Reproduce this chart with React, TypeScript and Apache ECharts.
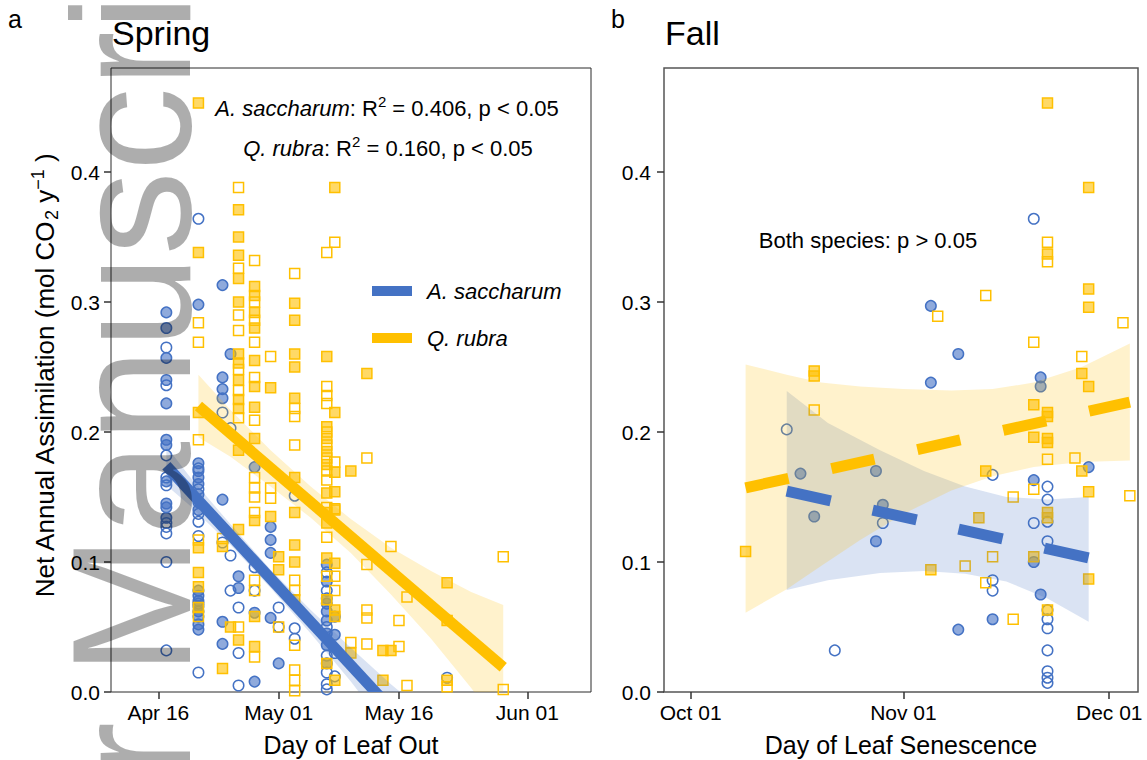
import React, { useEffect, useRef } from 'react';
import * as echarts from 'echarts';

type Group = [number, number[]];

const FONT = '"Liberation Sans", Arial, Helvetica, sans-serif';
const BLUE = '#4472C4';
const ORANGE = '#FFC000';
const BLUE_FILL = 'rgba(68,114,196,0.6)';
const ORANGE_FILL = 'rgba(255,192,0,0.6)';
const BLUE_BAND = 'rgba(68,114,196,0.2)';
const ORANGE_BAND = 'rgba(255,192,0,0.2)';

// x values are day of year
const springTickDays = [106, 121, 136, 152];
const springTickLabels = ['Apr 16', 'May 01', 'May 16', 'Jun 01'];
const fallTickDays = [274, 305, 335];
const fallTickLabels = ['Oct 01', 'Nov 01', 'Dec 01'];
const yTicks = [0, 0.1, 0.2, 0.3, 0.4];

// Spring — A. saccharum (circles)
const springMapleFilled: Group[] = [
  [107, [0.292, 0.28, 0.257, 0.24, 0.222, 0.194, 0.19, 0.162, 0.145, 0.142, 0.134]],
  [111, [0.298, 0.176, 0.17, 0.165, 0.16, 0.152, 0.146, 0.14, 0.078, 0.074, 0.07, 0.066, 0.062, 0.058, 0.052, 0.048]],
  [114, [0.313, 0.242, 0.233, 0.226, 0.148, 0.054, 0.037]],
  [115, [0.26]],
  [116, [0.089, 0.08]],
  [118, [0.173, 0.061, 0.008]],
  [120, [0.127, 0.117, 0.107, 0.057]],
  [121, [0.022]],
  [127, [0.098, 0.085, 0.072, 0.068, 0.062, 0.055, 0.045, 0.036, 0.022]],
  [128, [0.058, 0.044]],
];
const springMapleOpen: Group[] = [
  [107, [0.265, 0.236, 0.182, 0.165, 0.159, 0.13, 0.127, 0.122, 0.1, 0.032]],
  [111, [0.364, 0.172, 0.156, 0.137, 0.131, 0.12, 0.068, 0.015]],
  [114, [0.215, 0.115]],
  [115, [0.203, 0.105, 0.078]],
  [116, [0.065, 0.03, 0.005]],
  [118, [0.096, 0.078]],
  [121, [0.065, 0.05]],
  [123, [0.151, 0.049, 0.041]],
  [127, [0.092, 0.078, 0.05, 0.028, 0.015, 0.006, 0.002]],
  [128, [0.03, 0.012]],
  [142, [0.011]],
];
// Spring — Q. rubra (squares)
const springOakFilled: Group[] = [
  [111, [0.453, 0.338, 0.215, 0.111, 0.092, 0.081, 0.065]],
  [114, [0.112, 0.018]],
  [115, [0.05]],
  [116, [0.371, 0.35, 0.336, 0.318, 0.3, 0.26, 0.253, 0.24, 0.225, 0.218, 0.186, 0.125, 0.04]],
  [118, [0.312, 0.305, 0.292, 0.28, 0.255, 0.235, 0.219, 0.195, 0.132, 0.058, 0.035]],
  [120, [0.234, 0.135]],
  [121, [0.104, 0.094]],
  [123, [0.299, 0.286, 0.26, 0.25, 0.226, 0.165, 0.138, 0.113, 0.1, 0.071]],
  [127, [0.258, 0.204, 0.195, 0.185, 0.175, 0.153, 0.138, 0.13, 0.103, 0.071, 0.022]],
  [128, [0.388, 0.215, 0.169, 0.154, 0.14, 0.099, 0.063, 0.058, 0.009]],
  [130, [0.17, 0.03]],
  [132, [0.245]],
  [134, [0.032, 0.009]],
  [135, [0.032]],
  [142, [0.084, 0.055, 0.009]],
];
const springOakOpen: Group[] = [
  [111, [0.284, 0.269, 0.194, 0.117, 0.058]],
  [114, [0.118]],
  [116, [0.388, 0.326, 0.29, 0.278, 0.248, 0.232, 0.211, 0.05]],
  [118, [0.332, 0.3, 0.286, 0.269, 0.242, 0.209, 0.165, 0.157, 0.15, 0.138, 0.086, 0.078, 0.027]],
  [120, [0.258, 0.157, 0.149]],
  [121, [0.05]],
  [123, [0.322, 0.218, 0.212, 0.19, 0.086, 0.078, 0.036, 0.017, 0.009, 0.001]],
  [127, [0.338, 0.235, 0.228, 0.222, 0.2, 0.19, 0.18, 0.17, 0.163, 0.142, 0.119, 0.089]],
  [128, [0.346, 0.177, 0.141, 0.089, 0.078]],
  [130, [0.038]],
  [132, [0.18, 0.098, 0.063, 0.057, 0.037]],
  [135, [0.112]],
  [136, [0.055, 0.035]],
  [137, [0.073, 0.005]],
  [142, [0.004]],
  [149, [0.104, 0.002]],
];

// Fall
const fallMapleFilled: Group[] = [
  [290, [0.168]], [292, [0.135]], [301, [0.17, 0.116]], [302, [0.144]],
  [309, [0.297, 0.238]], [313, [0.26, 0.048]], [318, [0.056]], [324, [0.163, 0.1]],
  [325, [0.242, 0.235, 0.075]], [332, [0.173]],
];
const fallMapleOpen: Group[] = [
  [288, [0.202]], [295, [0.032]], [302, [0.13]], [318, [0.167, 0.086, 0.078]], [324, [0.364, 0.13]],
  [326, [0.158, 0.148, 0.131, 0.116, 0.063, 0.056, 0.049, 0.032, 0.016, 0.011, 0.007]],
];
const fallOakFilled: Group[] = [
  [282, [0.108]], [292, [0.247, 0.243]], [309, [0.094]], [316, [0.134]], [317, [0.17]],
  [324, [0.221, 0.196, 0.104]],
  [326, [0.453, 0.337, 0.215, 0.212, 0.195, 0.192, 0.138, 0.134, 0.063]],
  [331, [0.245, 0.17]], [332, [0.388, 0.31, 0.296, 0.235, 0.154, 0.087]],
];
const fallOakOpen: Group[] = [
  [292, [0.217]], [310, [0.289]], [314, [0.097]], [317, [0.305, 0.084]], [318, [0.104]],
  [321, [0.15, 0.056]], [324, [0.269, 0.156]], [326, [0.346, 0.331, 0.179]], [330, [0.18]],
  [331, [0.258]], [337, [0.284]], [338, [0.151]],
];

// Fitted lines [day, value]
const springMapleFit = [[107, 0.174], [142, -0.0595]];
const springOakFit = [[111, 0.22], [149, 0.019]];
const fallMapleFit = [[288, 0.1546], [332, 0.1031]];
const fallOakFit = [[282, 0.157], [338, 0.223]];

// Confidence bands
const springMapleBandDays = [107, 110, 115, 120, 125, 130, 135, 142];
const springMapleBandLow = [0.159, 0.143, 0.113, 0.08, 0.045, 0.008, -0.032, -0.09];
const springMapleBandHigh = [0.189, 0.165, 0.129, 0.094, 0.063, 0.034, 0.006, -0.03];
const springOakBandDays = [111, 115, 120, 125, 130, 135, 140, 145, 149];
const springOakBandLow = [0.196, 0.181, 0.158, 0.134, 0.107, 0.075, 0.041, 0.003, -0.029];
const springOakBandHigh = [0.244, 0.217, 0.186, 0.158, 0.133, 0.111, 0.093, 0.077, 0.067];
const fallMapleBandDays = [288, 294, 301.6, 308, 314, 320, 326, 332];
const fallMapleBandLow = [0.0785, 0.086, 0.0915, 0.093, 0.091, 0.085, 0.072, 0.054];
const fallMapleBandHigh = [0.2315, 0.207, 0.186, 0.17, 0.158, 0.15, 0.148, 0.15];
const fallOakBandDays = [282, 288, 293, 298.7, 305, 312, 318, 324, 331, 338];
const fallOakBandLow = [0.061, 0.079, 0.097, 0.117, 0.137, 0.155, 0.166, 0.173, 0.177, 0.178];
const fallOakBandHigh = [0.252, 0.244, 0.238, 0.235, 0.233, 0.232, 0.233, 0.238, 0.25, 0.268];

function flatten(groups: Group[]) {
  const out: number[][] = [];
  groups.forEach(([d, vs]) => vs.forEach((v) => out.push([d, v])));
  return out;
}

function scatter(groups: Group[], idx: number, symbol: string, fill: string, stroke: string) {
  return {
    type: 'scatter',
    xAxisIndex: idx,
    yAxisIndex: idx,
    data: flatten(groups),
    symbol,
    symbolSize: symbol === 'rect' ? 10 : 10.5,
    silent: true,
    z: 2,
    itemStyle: { color: fill, borderColor: stroke, borderWidth: 1.5, opacity: 1 },
  };
}

function band(days: number[], low: number[], high: number[], fill: string, idx: number) {
  return {
    type: 'custom',
    xAxisIndex: idx,
    yAxisIndex: idx,
    clip: true,
    silent: true,
    z: 3,
    data: [[days[0], 0]],
    encode: { x: 0, y: 1 },
    renderItem: (_p: any, api: any) => {
      const pts: number[][] = [];
      days.forEach((d, i) => pts.push(api.coord([d, high[i]])));
      for (let i = days.length - 1; i >= 0; i--) pts.push(api.coord([days[i], low[i]]));
      return { type: 'polygon', shape: { points: pts }, style: { fill } };
    },
  };
}

function fit(points: number[][], color: string, idx: number, dash: number[] | null) {
  return {
    type: 'custom',
    xAxisIndex: idx,
    yAxisIndex: idx,
    clip: true,
    silent: true,
    z: 4,
    data: [points[0]],
    encode: { x: 0, y: 1 },
    renderItem: (_p: any, api: any) => {
      const pts = points.map((p) => api.coord(p));
      return {
        type: 'polyline',
        shape: { points: pts },
        style: { stroke: color, lineWidth: 11, fill: 'none', lineDash: dash || undefined, lineCap: 'butt' },
      };
    },
  };
}

function xAxis(idx: number, min: number, max: number, days: number[], labels: string[]) {
  return {
    gridIndex: idx,
    type: 'value',
    min,
    max,
    axisLine: { show: false },
    splitLine: { show: false },
    axisTick: { show: true, customValues: days, length: 7, lineStyle: { color: '#333', width: 1.5 } },
    axisLabel: {
      customValues: days,
      formatter: (v: number) => {
        const i = days.findIndex((d) => Math.abs(d - v) < 1e-6);
        return i >= 0 ? labels[i] : '';
      },
      fontSize: 21,
      fontFamily: FONT,
      color: '#000',
      margin: 10,
    },
  };
}

function yAxis(idx: number, margin: number) {
  return {
    gridIndex: idx,
    type: 'value',
    min: 0,
    max: 0.48,
    axisLine: { show: false },
    splitLine: { show: false },
    axisTick: { show: true, customValues: yTicks, length: 7, lineStyle: { color: '#333', width: 1.5 } },
    axisLabel: {
      customValues: yTicks,
      formatter: (v: number) => v.toFixed(1),
      fontSize: 21,
      fontFamily: FONT,
      color: '#000',
      margin,
    },
  };
}

const txt = (text: string, x: number, y: number, size: number, extra: any = {}) => ({
  type: 'text',
  x,
  y,
  z: 50,
  silent: true,
  style: {
    text,
    fontSize: size,
    fontFamily: FONT,
    fill: '#000',
    align: 'left',
    verticalAlign: 'middle',
    ...extra,
  },
});

const richBase = (size: number) => ({
  n: { fontSize: size, fontFamily: FONT, fill: '#000', lineHeight: size + 6 },
  i: { fontSize: size, fontFamily: FONT, fill: '#000', fontStyle: 'italic', lineHeight: size + 6 },
  s: { fontSize: Math.round(size * 0.68), fontFamily: FONT, fill: '#000', lineHeight: Math.round(size * 0.68), verticalAlign: 'top' },
  b: { fontSize: Math.round(size * 0.68), fontFamily: FONT, fill: '#000', lineHeight: Math.round(size * 0.68), verticalAlign: 'bottom' },
});

export default function App() {
  const ref = useRef<HTMLDivElement>(null);
  useEffect(() => {
    const chart = echarts.init(ref.current!, undefined, { renderer: 'svg' });
    const option: any = {
      animation: false,
      backgroundColor: '#fff',
      grid: [
        { left: 111, top: 68, width: 480, height: 624, show: true, borderColor: '#2a2a2a', borderWidth: 1, backgroundColor: 'transparent' },
        { left: 664, top: 68, width: 474, height: 624, show: true, borderColor: '#555', borderWidth: 1.5, backgroundColor: 'transparent' },
      ],
      xAxis: [
        xAxis(0, 100.1, 159.94, springTickDays, springTickLabels),
        xAxis(1, 270.11, 339.19, fallTickDays, fallTickLabels),
      ],
      yAxis: [yAxis(0, 11), yAxis(1, 13)],
      series: [
        scatter(springMapleFilled, 0, 'circle', BLUE_FILL, BLUE),
        scatter(springMapleOpen, 0, 'circle', 'rgba(255,255,255,0)', BLUE),
        scatter(springOakFilled, 0, 'rect', ORANGE_FILL, ORANGE),
        scatter(springOakOpen, 0, 'rect', 'rgba(255,255,255,0)', ORANGE),
        band(springMapleBandDays, springMapleBandLow, springMapleBandHigh, BLUE_BAND, 0),
        band(springOakBandDays, springOakBandLow, springOakBandHigh, ORANGE_BAND, 0),
        fit(springMapleFit, BLUE, 0, null),
        fit(springOakFit, ORANGE, 0, null),
        scatter(fallMapleFilled, 1, 'circle', BLUE_FILL, BLUE),
        scatter(fallMapleOpen, 1, 'circle', 'rgba(255,255,255,0)', BLUE),
        scatter(fallOakFilled, 1, 'rect', ORANGE_FILL, ORANGE),
        scatter(fallOakOpen, 1, 'rect', 'rgba(255,255,255,0)', ORANGE),
        band(fallMapleBandDays, fallMapleBandLow, fallMapleBandHigh, BLUE_BAND, 1),
        band(fallOakBandDays, fallOakBandLow, fallOakBandHigh, ORANGE_BAND, 1),
        fit(fallMapleFit, BLUE, 1, [45, 43]),
        fit(fallOakFit, ORANGE, 1, [44, 44]),
      ],
      graphic: [
        txt('a', 8, 19, 25),
        txt('b', 611, 19, 25),
        txt('Spring', 112, 33, 34),
        txt('Fall', 665, 33, 34),
        txt('{i|A. saccharum}{n|: R}{s|2}{n| = 0.406, p < 0.05}', 387, 108, 22, { align: 'center', rich: richBase(22) }),
        txt('{i|Q. rubra}{n|: R}{s|2}{n| = 0.160, p < 0.05}', 388, 148, 22, { align: 'center', rich: richBase(22) }),
        { type: 'line', z: 50, silent: true, shape: { x1: 372, y1: 291, x2: 412, y2: 291 }, style: { stroke: BLUE, lineWidth: 10 } },
        { type: 'line', z: 50, silent: true, shape: { x1: 372, y1: 338, x2: 412, y2: 338 }, style: { stroke: ORANGE, lineWidth: 10 } },
        txt('A. saccharum', 427, 291, 22, { fontStyle: 'italic' }),
        txt('Q. rubra', 427, 338, 22, { fontStyle: 'italic' }),
        txt('Both species: p > 0.05', 868, 240, 22, { align: 'center' }),
        txt('Day of Leaf Out', 351, 745, 25, { align: 'center' }),
        txt('Day of Leaf Senescence', 901, 745, 25, { align: 'center' }),
        {
          type: 'text', x: 45, y: 376, rotation: Math.PI / 2, z: 50, silent: true,
          style: {
            text: '{n|Net Annual Assimilation (mol CO}{b|2}{n| y}{s|\u22121}{n| )}',
            align: 'center', verticalAlign: 'middle', rich: richBase(26), fontSize: 26, fontFamily: FONT, fill: '#000',
          },
        },
        {
          type: 'text', x: 132, y: 675.5, rotation: Math.PI / 2, z: 100, silent: true,
          style: { text: 'Manuscript', fontSize: 168, fontFamily: FONT, fill: 'rgba(0,0,0,0.32)', align: 'left', verticalAlign: 'middle' },
        },
        {
          type: 'text', x: 132, y: 722, rotation: Math.PI / 2, z: 100, silent: true,
          style: { text: 'Author', fontSize: 168, fontFamily: FONT, fill: 'rgba(0,0,0,0.32)', align: 'right', verticalAlign: 'middle' },
        },
      ],
    };
    chart.setOption(option);
    return () => chart.dispose();
  }, []);
  return (
    <div
      ref={ref}
      style={{ position: 'fixed', left: 0, top: 0, width: 1147, height: 760, background: '#fff' }}
    />
  );
}
